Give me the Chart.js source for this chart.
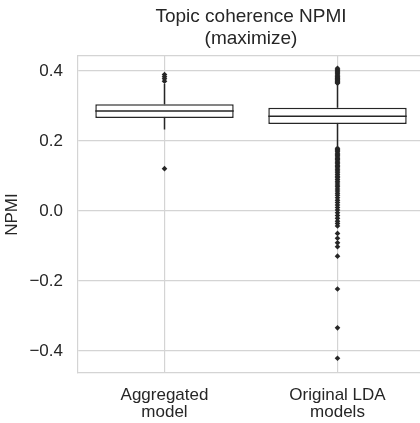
<!DOCTYPE html>
<html>
<head>
<meta charset="utf-8">
<script src="https://cdn.jsdelivr.net/npm/chart.js@4.4.0/dist/chart.umd.min.js"></script>
<style>
  html, body { margin: 0; padding: 0; background: #fff; }
  #wrap { width: 420px; height: 423px; overflow: hidden; }
</style>
</head>
<body>
<div id="wrap"><canvas id="myChart" width="430" height="423"></canvas></div>
<script>
// categories
var labels = [["Aggregated", "model"], ["Original LDA", "models"]];

// box stats per category
var q1 = [0.266, 0.249];
var medians = [0.286, 0.271];
var q3 = [0.305, 0.295];
var whiskerLow = [0.233, 0.184];
var whiskerHigh = [0.363, 0.362];

// outliers
var aggOutliers = [0.390, 0.384, 0.378, 0.371, 0.121];
var ldaOutliers = [
    0.408, 0.404, 0.401, 0.398, 0.395, 0.392, 0.389, 0.386, 0.384, 0.381,
    0.379, 0.377, 0.375, 0.373, 0.371, 0.369, 0.367, 0.365,
    0.179, 0.176, 0.172, 0.169, 0.165, 0.161, 0.158, 0.154, 0.150, 0.147,
    0.143, 0.139, 0.135, 0.131, 0.127, 0.123, 0.118, 0.114, 0.109, 0.104,
    0.099, 0.095, 0.090, 0.085, 0.080, 0.074, 0.069, 0.063, 0.057, 0.051,
    0.045, 0.038, 0.031, 0.024, 0.017, 0.010, 0.003, -0.005, -0.013, -0.021,
    -0.029, -0.036, -0.043,
    -0.064, -0.078, -0.091, -0.102, -0.129, -0.223, -0.334, -0.421
];

var yTicks = [-0.4, -0.2, 0.0, 0.2, 0.4];

var lineColor = '#262626';
var gridColor = '#d4d4d4';

function toPoints(label, values) {
    return values.map(function (v) { return {x: label, y: v}; });
}

// whiskers + medians, drawn with the chart's own scales
var boxExtras = {
    id: 'boxExtras',
    afterDatasetsDraw: function (chart) {
        var ctx = chart.ctx;
        var y = chart.scales.y;
        var meta = chart.getDatasetMeta(0);
        ctx.save();
        ctx.strokeStyle = lineColor;
        ctx.lineWidth = 1.5;
        meta.data.forEach(function (bar, i) {
            var half = bar.width / 2;
            ctx.beginPath();
            ctx.moveTo(bar.x - half, y.getPixelForValue(medians[i]));
            ctx.lineTo(bar.x + half, y.getPixelForValue(medians[i]));
            ctx.moveTo(bar.x, y.getPixelForValue(q3[i]));
            ctx.lineTo(bar.x, y.getPixelForValue(whiskerHigh[i]));
            ctx.moveTo(bar.x, y.getPixelForValue(q1[i]));
            ctx.lineTo(bar.x, y.getPixelForValue(whiskerLow[i]));
            ctx.stroke();
        });
        ctx.restore();
    }
};

var font = "'Liberation Sans', Arial, sans-serif";

var ctx = document.getElementById("myChart");
var myChart = new Chart(ctx, {
    type: 'bar',
    data: {
        labels: labels,
        datasets: [{
            data: labels.map(function (l, i) { return [q1[i], q3[i]]; }),
            backgroundColor: '#ffffff',
            borderColor: lineColor,
            borderWidth: 1.5,
            borderSkipped: false,
            barPercentage: 0.8,
            categoryPercentage: 1,
            grouped: false,
            order: 2
        }, {
            type: 'scatter',
            data: toPoints(labels[0], aggOutliers),
            pointStyle: 'rectRot',
            radius: 2.8,
            backgroundColor: lineColor,
            borderColor: lineColor,
            borderWidth: 0,
            order: 1
        }, {
            type: 'scatter',
            data: toPoints(labels[1], ldaOutliers),
            pointStyle: 'rectRot',
            radius: 2.8,
            backgroundColor: lineColor,
            borderColor: lineColor,
            borderWidth: 0,
            order: 1
        }]
    },
    plugins: [boxExtras],
    options: {
        responsive: false,
        animation: false,
        events: [],
        layout: {padding: {left: 2, right: 6, top: 0, bottom: 0}},
        plugins: {
            legend: {display: false},
            tooltip: {enabled: false}
        },
        scales: {
            x: {
                type: 'category',
                offset: true,
                grid: {color: gridColor, lineWidth: 1.2, offset: false, drawTicks: false},
                border: {color: gridColor, width: 1.2},
                ticks: {
                    color: '#262626',
                    padding: 14,
                    maxRotation: 0,
                    font: {family: font, size: 17, lineHeight: 0.98}
                },
                afterFit: function (s) { s.height = 50; }
            },
            top: {
                type: 'category',
                position: 'top',
                labels: labels,
                offset: true,
                grid: {display: false, drawTicks: false},
                border: {color: gridColor, width: 1.2},
                ticks: {display: false},
                title: {
                    display: true,
                    text: ["Topic coherence NPMI", "(maximize)"],
                    color: '#262626',
                    padding: {top: 5, bottom: 0},
                    font: {family: font, size: 19, lineHeight: 1.2}
                },
                afterFit: function (s) { s.height = 56; }
            },
            y: {
                min: -0.463,
                max: 0.443,
                grid: {color: gridColor, lineWidth: 1.2, drawTicks: false},
                border: {color: gridColor, width: 1.2},
                afterBuildTicks: function (s) {
                    s.ticks = yTicks.map(function (v) { return {value: v}; });
                },
                ticks: {
                    color: '#262626',
                    padding: 15,
                    font: {family: font, size: 17},
                    callback: function (v) {
                        return v.toFixed(1).replace('-', '\u2212');
                    }
                },
                title: {
                    display: true,
                    text: 'NPMI',
                    color: '#262626',
                    padding: {top: 0, bottom: 0},
                    font: {family: font, size: 17}
                },
                afterFit: function (s) { s.width = 76; }
            }
        }
    }
});
</script>
</body>
</html>
